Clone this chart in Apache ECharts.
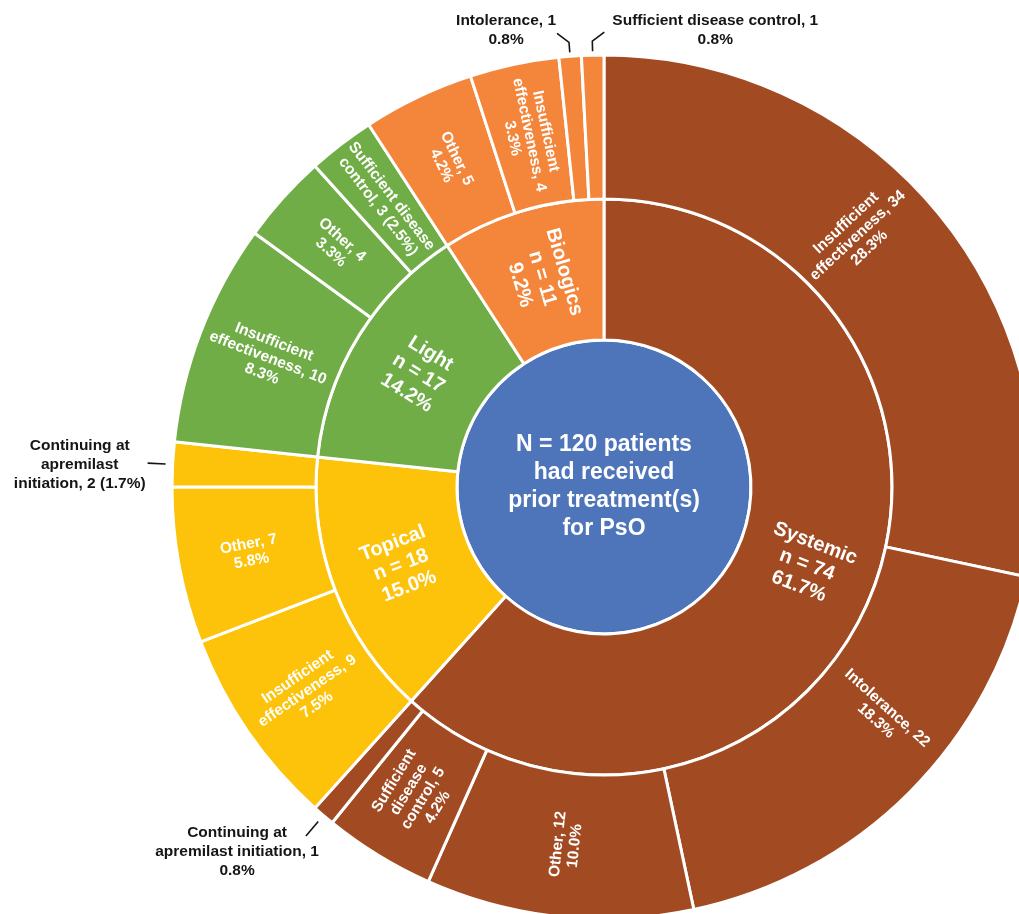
<!DOCTYPE html>
<html>
<head>
<meta charset="utf-8">
<script src="https://cdn.jsdelivr.net/npm/echarts@6/dist/echarts.min.js"></script>
<style>
  html, body { margin: 0; padding: 0; background: #ffffff; }
  #chart { width: 1019px; height: 914px; }
</style>
</head>
<body>
<div id="chart"></div>
<script>
// ---------------- data ----------------
const centerText = 'N = 120 patients\nhad received\nprior treatment(s)\nfor PsO';
const totalPatients = 120;

const categories = ['Systemic', 'Topical', 'Light', 'Biologics'];
const categoryCounts = [74, 18, 17, 11];
const categoryPercents = ['61.7%', '15.0%', '14.2%', '9.2%'];

const systemicReasons = ['Insufficient effectiveness', 'Intolerance', 'Other', 'Sufficient disease control', 'Continuing at apremilast initiation'];
const systemicCounts = [34, 22, 12, 5, 1];
const systemicLabels = ['Insufficient\neffectiveness, 34\n28.3%', 'Intolerance, 22\n18.3%', 'Other, 12\n10.0%', 'Sufficient\ndisease\ncontrol, 5\n4.2%', 'Continuing at\napremilast initiation, 1\n0.8%'];

const topicalReasons = ['Insufficient effectiveness', 'Other', 'Continuing at apremilast initiation'];
const topicalCounts = [9, 7, 2];
const topicalLabels = ['Insufficient\neffectiveness, 9\n7.5%', 'Other, 7\n5.8%', 'Continuing at\napremilast\ninitiation, 2 (1.7%)'];

const lightReasons = ['Insufficient effectiveness', 'Other', 'Sufficient disease control'];
const lightCounts = [10, 4, 3];
const lightLabels = ['Insufficient\neffectiveness, 10\n8.3%', 'Other, 4\n3.3%', 'Sufficient disease\ncontrol, 3 (2.5%)'];

const biologicsReasons = ['Other', 'Insufficient effectiveness', 'Intolerance', 'Sufficient disease control'];
const biologicsCounts = [5, 4, 1, 1];
const biologicsLabels = ['Other, 5\n4.2%', 'Insufficient\neffectiveness, 4\n3.3%', 'Intolerance, 1\n0.8%', 'Sufficient disease control, 1\n0.8%'];

// leaves whose label sits outside the ring with a leader line
const outsideLabelKeys = ['Systemic|Continuing at apremilast initiation', 'Topical|Continuing at apremilast initiation', 'Biologics|Intolerance', 'Biologics|Sufficient disease control'];

// ---------------- styles / layout ----------------
const FONT = '"Liberation Sans", Arial, Helvetica, sans-serif';
const centerColor = '#4E74BA';
const categoryColors = ['#A24B23', '#FDC30B', '#70AD47', '#F4863B'];
const CX = 604, CY = 487, R0 = 147, R1 = 288, R2 = 432;

const outsideLabelLayout = {
  'Systemic|Continuing at apremilast initiation': { from: 8, to: 27, bend: [0, 0], shift: [13, 16], align: 'right' },
  'Topical|Continuing at apremilast initiation': { from: 7, to: 25, bend: [0, 0], shift: [-2, 2], align: 'right' },
  'Biologics|Intolerance': { from: 4, to: 14, bend: [-12, -9], shift: [-1, -3], align: 'right' },
  'Biologics|Sufficient disease control': { from: 4, to: 14, bend: [12, -9], shift: [8, -2], align: 'left' }
};
// small nudges (screen pixels) of a few inside labels, as placed in the original figure
const insideLabelAdjust = {
  'Systemic|Insufficient effectiveness': { dx: -26, dy: -25, rotate: 43 },
  'Systemic|Intolerance': { dx: 23, dy: -27, rotate: -42 }
};

// ---------------- build ----------------
const groupReasons = [systemicReasons, topicalReasons, lightReasons, biologicsReasons];
const groupCounts = [systemicCounts, topicalCounts, lightCounts, biologicsCounts];
const groupLabels = [systemicLabels, topicalLabels, lightLabels, biologicsLabels];

const leaves = [];
const textToKey = {};
const categoryNodes = categories.map(function (cat, i) {
  return {
    name: cat,
    value: categoryCounts[i],
    itemStyle: { color: categoryColors[i] },
    label: { formatter: cat + '\nn = ' + categoryCounts[i] + '\n' + categoryPercents[i] },
    children: groupReasons[i].map(function (reason, j) {
      const key = cat + '|' + reason;
      const outside = outsideLabelKeys.indexOf(key) >= 0;
      leaves.push({ key: key, value: groupCounts[i][j], text: groupLabels[i][j], outside: outside });
      textToKey[groupLabels[i][j]] = key;
      const label = { show: !outside, formatter: groupLabels[i][j] };
      if (insideLabelAdjust[key]) { label.rotate = insideLabelAdjust[key].rotate; }
      return {
        name: reason,
        value: groupCounts[i][j],
        itemStyle: { color: categoryColors[i] },
        label: label
      };
    })
  };
});

function richify(text) {
  return text.split('\n').map(function (s) { return '{ol|' + s + '}'; }).join('\n');
}

const outsideTextStyle = { fontFamily: FONT, fontSize: 15.5, fontWeight: 'bold', color: '#151515', lineHeight: 19 };

const chart = echarts.init(document.getElementById('chart'), null, { renderer: 'canvas' });
chart.setOption({
  backgroundColor: '#ffffff',
  animation: false,
  series: [
    {
      type: 'sunburst',
      center: [CX, CY],
      radius: [0, R2],
      sort: null,
      startAngle: 90,
      clockwise: true,
      nodeClick: false,
      itemStyle: { borderColor: '#ffffff', borderWidth: 3 },
      label: { color: '#ffffff', fontFamily: FONT, rotate: 'radial', textBorderWidth: 0 },
      emphasis: { focus: 'none' },
      levels: [
        {},
        { r0: 0, r: R0, label: { rotate: 0, fontSize: 23, fontWeight: 'bold', lineHeight: 28 } },
        { r0: R0, r: R1, label: { rotate: 'radial', fontSize: 20, fontWeight: 'bold', lineHeight: 23 } },
        { r0: R1, r: R2, label: { rotate: 'radial', fontSize: 15.5, fontWeight: 'bold', lineHeight: 17 } }
      ],
      data: [{
        name: 'All',
        value: totalPatients,
        itemStyle: { color: centerColor },
        label: { formatter: centerText },
        children: categoryNodes
      }],
      labelLayout: function (p) {
        const key = textToKey[p.text];
        const adj = key && insideLabelAdjust[key];
        if (!adj) { return {}; }
        // dx/dy are applied in the label's rotated frame: convert the screen offset
        const th = adj.rotate * Math.PI / 180;
        const c = Math.cos(th), s = Math.sin(th);
        return { dx: adj.dx * c - adj.dy * s, dy: adj.dx * s + adj.dy * c };
      }
    },
    {
      type: 'pie',
      center: [CX, CY],
      radius: [R1, R2],
      startAngle: 90,
      clockwise: true,
      silent: true,
      avoidLabelOverlap: false,
      z: 5,
      itemStyle: { color: 'rgba(0,0,0,0)', borderWidth: 0 },
      emphasis: { disabled: true },
      label: { show: false },
      labelLine: { show: false },
      data: leaves.map(function (l) {
        return {
          name: l.key,
          value: l.value,
          label: l.outside ? Object.assign({
            show: true, position: 'outside', formatter: richify(l.text),
            rich: { ol: Object.assign({ align: 'center' }, outsideTextStyle) }
          }, outsideTextStyle) : { show: false },
          labelLine: l.outside ? { show: true, length: 12, length2: 5, lineStyle: { color: '#151515', width: 1.6 } } : { show: false }
        };
      }),
      labelLayout: function (p) {
        const leaf = leaves[p.dataIndex];
        const cfg = leaf && outsideLabelLayout[leaf.key];
        const pts = p.labelLinePoints;
        if (!cfg || !pts || pts.length < 2) { return {}; }
        const p0 = pts[0], p1 = pts[1];
        let dx = p1[0] - p0[0], dy = p1[1] - p0[1];
        const len = Math.sqrt(dx * dx + dy * dy) || 1;
        dx /= len; dy /= len;
        const a = [p0[0] + dx * cfg.from, p0[1] + dy * cfg.from];
        const b = [p0[0] + dx * cfg.to, p0[1] + dy * cfg.to];
        const c = [b[0] + cfg.bend[0], b[1] + cfg.bend[1]];
        return {
          x: c[0] + cfg.shift[0],
          y: c[1] + cfg.shift[1],
          align: cfg.align,
          verticalAlign: 'middle',
          labelLinePoints: [a, b, c]
        };
      }
    }
  ]
});
</script>
</body>
</html>
